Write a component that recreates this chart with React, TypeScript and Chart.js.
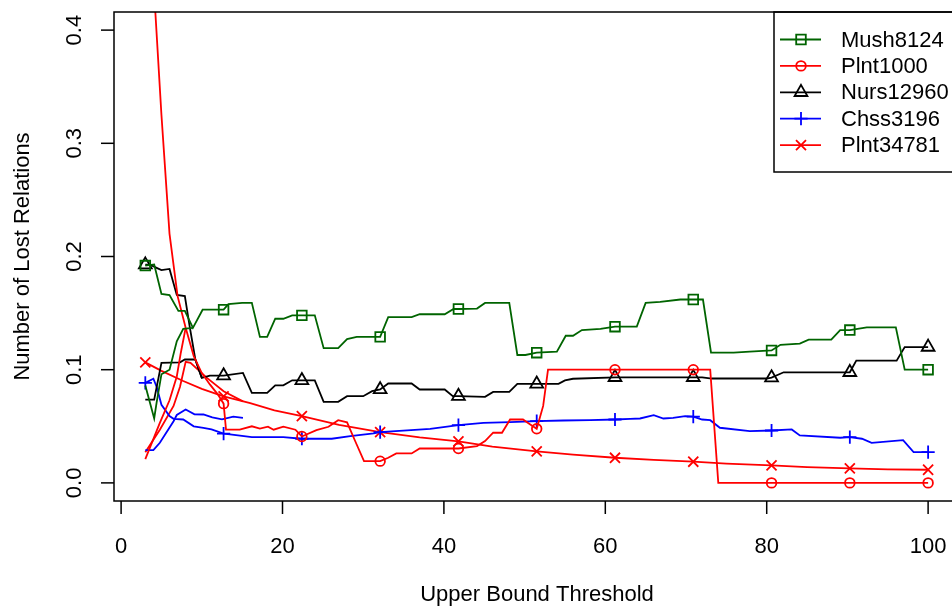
import React, { useEffect, useRef } from 'react';
import { Chart, registerables } from 'chart.js';

Chart.register(...registerables);

type P = [number, number];

// ---- data ----
const MARKER_X = [3, 12.7, 22.4, 32.1, 41.8, 51.5, 61.2, 70.9, 80.6, 90.3, 100];
const X_TICKS = [0, 20, 40, 60, 80, 100];
const X_TICK_LABELS = ['0', '20', '40', '60', '80', '100'];
const Y_TICKS = [0, 0.1, 0.2, 0.3, 0.4];
const Y_TICK_LABELS = ['0.0', '0.1', '0.2', '0.3', '0.4'];
const X_TITLE = 'Upper Bound Threshold';
const Y_TITLE = 'Number of Lost Relations';

const SERIES_NAMES = ['Mush8124', 'Plnt1000', 'Nurs12960', 'Chss3196', 'Plnt34781'];
const SERIES_COLORS = ['#006400', '#FF0000', '#000000', '#0000FF', '#FF0000'];
const SERIES_MARKERS = ['square', 'circle', 'triangle', 'plus', 'cross'];

const mush8124Main: P[] = [
  [3, 0.192], [4.1, 0.193], [5, 0.167], [6, 0.166], [7.1, 0.152], [7.9, 0.152], [8.9, 0.137],
  [10.1, 0.153], [12.7, 0.153], [13.3, 0.158], [15, 0.159], [16.2, 0.159], [17.2, 0.129],
  [18.1, 0.129], [19.1, 0.145], [20.1, 0.145], [21.2, 0.148], [22.4, 0.148], [24, 0.148],
  [25.1, 0.119], [26.9, 0.119], [28, 0.127], [29.2, 0.129], [32.1, 0.129], [33.1, 0.1465],
  [36, 0.1465], [37, 0.149], [40.1, 0.149], [41.2, 0.1536], [41.8, 0.1536], [44.1, 0.154],
  [45.1, 0.159], [48.1, 0.159], [49.1, 0.113], [50.1, 0.113], [51.5, 0.115], [54, 0.116],
  [55.1, 0.13], [56, 0.13], [57.1, 0.135], [59.4, 0.136], [61.2, 0.138], [63.9, 0.138],
  [65, 0.159], [66.8, 0.16], [69.3, 0.162], [70.9, 0.162], [72.1, 0.162], [73.1, 0.115],
  [75.9, 0.115], [77.9, 0.116], [80.6, 0.117], [81.7, 0.122], [84.1, 0.123], [85.2, 0.1265],
  [88, 0.1265], [89.1, 0.135], [90.3, 0.135], [92.4, 0.1374], [96, 0.1374], [97.1, 0.1], [100, 0.1],
];
const mush8124Short: P[] = [
  [3, 0.086], [4.1, 0.057], [4.4, 0.071], [5, 0.096], [6, 0.1], [6.9, 0.125], [7.7, 0.136], [8.9, 0.137],
];

const plnt1000Main: P[] = [
  [3, 0.57], [4, 0.445], [5, 0.325], [6, 0.22], [7, 0.165], [8, 0.137], [9, 0.112], [10, 0.097],
  [11, 0.087], [12, 0.078], [12.7, 0.07], [13, 0.047], [14.7, 0.047], [16.2, 0.05], [17.2, 0.048],
  [18.2, 0.0496], [18.9, 0.047], [20.1, 0.0496], [21.6, 0.047], [22.4, 0.041], [24.2, 0.0466],
  [25.7, 0.0496], [26.9, 0.0554], [28, 0.0535], [29, 0.037], [30.1, 0.0192], [32.1, 0.0192],
  [33.1, 0.0222], [34.1, 0.026], [36, 0.026], [37, 0.0304], [41.8, 0.0304], [44.1, 0.0325],
  [45.1, 0.037], [46.1, 0.0443], [47.2, 0.0443], [48.2, 0.056], [49.8, 0.056], [50.7, 0.0516],
  [51.5, 0.0478], [52.3, 0.068], [52.9, 0.1], [61.2, 0.1], [70.9, 0.1], [73, 0.1], [74, 0],
  [80.6, 0], [90.3, 0], [100, 0],
];
const plnt1000Short: P[] = [
  [3, 0.021], [4.8, 0.053], [6, 0.073], [6.9, 0.094], [7.4, 0.115], [8, 0.137],
];

const nurs12960Main: P[] = [
  [3, 0.1927], [3.6, 0.1927], [4.4, 0.19], [5, 0.188], [6, 0.189], [6.9, 0.166], [7.9, 0.165],
  [8.5, 0.138], [9.2, 0.109], [10, 0.0928], [11, 0.0948], [12.7, 0.0948], [15.1, 0.0972],
  [16.2, 0.0795], [18.1, 0.0795], [19.1, 0.0862], [20.1, 0.0862], [21.2, 0.0906], [22.4, 0.0906],
  [24, 0.0906], [25.1, 0.0716], [26.9, 0.0716], [28, 0.0766], [30, 0.0766], [31.1, 0.081],
  [32.1, 0.0825], [33.1, 0.0878], [36, 0.0878], [37, 0.0825], [40.1, 0.0825], [41.1, 0.0766],
  [41.8, 0.0766], [45.1, 0.076], [46.1, 0.0804], [48.1, 0.0804], [49.1, 0.0875], [51.5, 0.0875],
  [54.2, 0.0875], [55, 0.0906], [56, 0.092], [61.2, 0.0933], [70.9, 0.0933], [72, 0.0933],
  [73.2, 0.0922], [80, 0.0922], [80.6, 0.093], [82.1, 0.0977], [90.3, 0.0977], [91.1, 0.108],
  [96.1, 0.108], [97.1, 0.12], [100, 0.12],
];
const nurs12960Short: P[] = [
  [3, 0.0736], [4.1, 0.0736], [5, 0.106], [7.3, 0.1065], [7.9, 0.109], [9.2, 0.109], [10, 0.0928],
];

const chss3196Main: P[] = [
  [3, 0.0884], [4, 0.092], [4.4, 0.085], [5, 0.069], [6, 0.059], [6.5, 0.0566], [7.7, 0.056],
  [9, 0.05], [10.2, 0.0487], [11.2, 0.0472], [12.7, 0.0435], [13.5, 0.0428], [16.2, 0.0404],
  [20.1, 0.0404], [22.4, 0.039], [26.1, 0.039], [28.4, 0.0413], [31.3, 0.0437], [32.1, 0.0448],
  [38.3, 0.0478], [41.8, 0.051], [44.9, 0.0531], [48.2, 0.0536], [51.5, 0.0545], [54.8, 0.0551],
  [58.1, 0.0554], [61.2, 0.056], [63.1, 0.0566], [64.3, 0.0569], [66, 0.0598], [67.2, 0.0569],
  [68.4, 0.0575], [69.9, 0.0589], [70.9, 0.0585], [72, 0.056], [73, 0.0554], [74.2, 0.0487],
  [77.9, 0.0457], [80.6, 0.0463], [83.1, 0.0472], [84.1, 0.0419], [89.1, 0.0399], [90.3, 0.0405],
  [91.8, 0.039], [93, 0.0354], [96.9, 0.0377], [98.2, 0.0272], [100, 0.0272],
];
const chss3196Short: P[] = [
  [3, 0.029], [4, 0.029], [4.8, 0.0354], [6.5, 0.0545], [6.9, 0.06], [8, 0.0648], [9.1, 0.0605],
  [10.2, 0.0604], [11.3, 0.0578], [12.5, 0.0562], [13.9, 0.0585], [15.1, 0.0575],
];

const plnt34781Main: P[] = [
  [3, 0.1065], [5, 0.099], [7.7, 0.09], [10, 0.083], [12.7, 0.0765], [16, 0.0705], [19, 0.064],
  [22.4, 0.0589], [27, 0.0512], [32.1, 0.0448], [37, 0.0403], [41.8, 0.0367], [46, 0.032],
  [51.5, 0.0278], [56, 0.025], [61.2, 0.0222], [66, 0.0203], [70.9, 0.0187], [75, 0.017],
  [80.6, 0.0155], [85, 0.014], [90.3, 0.0128], [95, 0.012], [100, 0.0116],
];
const plnt34781Short: P[] = [
  [3, 0.027], [4.8, 0.047], [6.5, 0.068], [7.3, 0.085], [8, 0.107], [8.6, 0.106], [10.6, 0.093],
  [12.7, 0.081], [15.1, 0.072],
];

const MAIN_LINES = [mush8124Main, plnt1000Main, nurs12960Main, chss3196Main, plnt34781Main];
const SHORT_LINES = [mush8124Short, plnt1000Short, nurs12960Short, chss3196Short, plnt34781Short];

// ---- styling ----
const FONT = '22px "Liberation Sans", Arial, Helvetica, sans-serif';
const LW = 1.8;
const CJS_STYLE: Record<string, string> = {
  square: 'rect', circle: 'circle', triangle: 'triangle', plus: 'cross', cross: 'crossRot',
};
const CJS_RADIUS: Record<string, number> = {
  square: 6.8, circle: 4.8, triangle: 7.4, plus: 6.6, cross: 7.1,
};

function drawMarker(ctx: CanvasRenderingContext2D, kind: string, x: number, y: number, color: string) {
  ctx.save();
  ctx.strokeStyle = color;
  ctx.lineWidth = LW;
  ctx.beginPath();
  if (kind === 'square') {
    const s = 4.8;
    ctx.rect(x - s, y - s, 2 * s, 2 * s);
  } else if (kind === 'circle') {
    ctx.arc(x, y, 4.8, 0, Math.PI * 2);
  } else if (kind === 'triangle') {
    const r = 7.4;
    for (let i = 0; i < 3; i++) {
      const a = (i * 2 * Math.PI) / 3;
      const px = x + Math.sin(a) * r;
      const py = y - Math.cos(a) * r;
      if (i === 0) ctx.moveTo(px, py); else ctx.lineTo(px, py);
    }
    ctx.closePath();
  } else if (kind === 'plus') {
    const r = 6.6;
    ctx.moveTo(x - r, y); ctx.lineTo(x + r, y);
    ctx.moveTo(x, y - r); ctx.lineTo(x, y + r);
  } else {
    const r = 5;
    ctx.moveTo(x - r, y - r); ctx.lineTo(x + r, y + r);
    ctx.moveTo(x - r, y + r); ctx.lineTo(x + r, y - r);
  }
  ctx.stroke();
  ctx.restore();
}

const rAxesPlugin = {
  id: 'rAxes',
  afterDraw(chart: any) {
    const { ctx, chartArea, scales } = chart;
    const xs = scales.x;
    const ys = scales.y;
    const left = chartArea.left;
    const top = chartArea.top;
    const bottom = chartArea.bottom;
    ctx.save();
    ctx.strokeStyle = '#000';
    ctx.fillStyle = '#000';
    ctx.lineWidth = 1.5;
    // box
    ctx.strokeRect(left, top, 960 - left, bottom - top);
    // x axis ticks
    ctx.font = FONT;
    ctx.textAlign = 'center';
    ctx.textBaseline = 'middle';
    X_TICKS.forEach((v, i) => {
      const px = xs.getPixelForValue(v);
      ctx.beginPath();
      ctx.moveTo(px, bottom);
      ctx.lineTo(px, bottom + 13);
      ctx.stroke();
      ctx.fillText(X_TICK_LABELS[i], px, bottom + 46);
    });
    // y axis ticks
    Y_TICKS.forEach((v, i) => {
      const py = ys.getPixelForValue(v);
      ctx.beginPath();
      ctx.moveTo(left, py);
      ctx.lineTo(left - 13, py);
      ctx.stroke();
      ctx.save();
      ctx.translate(left - 39, py);
      ctx.rotate(-Math.PI / 2);
      ctx.fillText(Y_TICK_LABELS[i], 0, 0);
      ctx.restore();
    });
    // titles
    ctx.fillText(X_TITLE, (left + 960) / 2, 595);
    ctx.save();
    ctx.translate(23, (top + bottom) / 2);
    ctx.rotate(-Math.PI / 2);
    ctx.fillText(Y_TITLE, 0, 0);
    ctx.restore();
    // legend
    ctx.lineWidth = 1.5;
    ctx.strokeRect(774, 12, 220, 160);
    ctx.textAlign = 'left';
    SERIES_NAMES.forEach((name, i) => {
      const y = 39.5 + i * 26.4;
      ctx.save();
      ctx.strokeStyle = SERIES_COLORS[i];
      ctx.lineWidth = LW;
      ctx.beginPath();
      ctx.moveTo(780, y);
      ctx.lineTo(821, y);
      ctx.stroke();
      ctx.restore();
      drawMarker(ctx, SERIES_MARKERS[i], 801, y, SERIES_COLORS[i]);
      ctx.fillStyle = '#000';
      ctx.fillText(name, 841, y + 1);
    });
    ctx.restore();
  },
};

export default function App() {
  const ref = useRef<HTMLCanvasElement | null>(null);
  useEffect(() => {
    if (!ref.current) return;
    const datasets: any[] = [];
    SERIES_NAMES.forEach((name, i) => {
      const kind = SERIES_MARKERS[i];
      datasets.push({
        label: name,
        data: MAIN_LINES[i].map(([x, y]) => ({ x, y })),
        showLine: true,
        borderColor: SERIES_COLORS[i],
        borderWidth: LW,
        tension: 0,
        clip: 0,
        pointStyle: CJS_STYLE[kind],
        pointRadius: (c: any) => (c.raw && MARKER_X.includes(c.raw.x) ? CJS_RADIUS[kind] : 0),
        pointHoverRadius: 0,
        pointBorderColor: SERIES_COLORS[i],
        pointBackgroundColor: 'rgba(0,0,0,0)',
        pointBorderWidth: LW,
        order: i,
      });
      datasets.push({
        label: name + ' (start)',
        data: SHORT_LINES[i].map(([x, y]) => ({ x, y })),
        showLine: true,
        borderColor: SERIES_COLORS[i],
        borderWidth: LW,
        tension: 0,
        clip: 0,
        pointRadius: 0,
        pointHoverRadius: 0,
        order: i,
      });
    });
    const chart = new Chart(ref.current, {
      type: 'scatter',
      data: { datasets },
      options: {
        animation: false,
        responsive: false,
        devicePixelRatio: 1,
        layout: { autoPadding: false, padding: { left: 114, top: 12, right: 0, bottom: 105 } },
        plugins: { legend: { display: false }, tooltip: { enabled: false } },
        events: [],
        scales: {
          x: { type: 'linear', min: -0.88, max: 102.96, display: false },
          y: { type: 'linear', min: -0.016, max: 0.416, display: false },
        },
      },
      plugins: [rAxesPlugin],
    });
    return () => chart.destroy();
  }, []);
  return (
    <div style={{ position: 'fixed', left: 0, top: 0, width: 952, height: 606, background: '#fff' }}>
      <canvas ref={ref} width={952} height={606} style={{ width: 952, height: 606, display: 'block' }} />
    </div>
  );
}
